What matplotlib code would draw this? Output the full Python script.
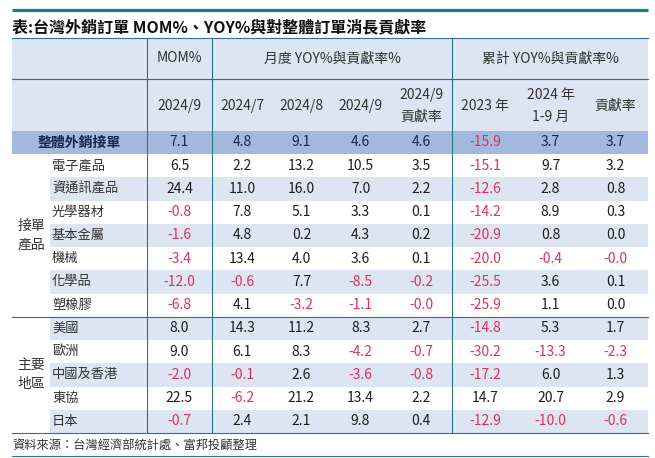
import matplotlib
matplotlib.use("Agg")
import matplotlib.pyplot as plt
from matplotlib.patches import Rectangle

plt.rcParams['font.family'] = ['Noto Sans CJK TC', 'DejaVu Sans']

# ---------------- data ----------------
title = "表:台灣外銷訂單 MOM%、YOY%與對整體訂單消長貢獻率"
source = "資料來源：台灣經濟部統計處、富邦投顧整理"

total_label = "整體外銷接單"
product_group = "接單\n產品"
region_group = "主要\n地區"
product_labels = ["電子產品", "資通訊產品", "光學器材", "基本金屬", "機械", "化學品", "塑橡膠"]
region_labels = ["美國", "歐洲", "中國及香港", "東協", "日本"]

header_top = ["MOM%", "月度 YOY%與貢獻率%", "累計 YOY%與貢獻率%"]
header_sub = ["2024/9", "2024/7", "2024/8", "2024/9", "2024/9\n貢獻率", "2023 年", "2024 年\n1-9 月", "貢獻率"]

# rows: total, 7 products, 5 regions
mom_2024_9    = [7.1, 6.5, 24.4, -0.8, -1.6, -3.4, -12.0, -6.8, 8.0, 9.0, -2.0, 22.5, -0.7]
yoy_2024_7    = [4.8, 2.2, 11.0, 7.8, 4.8, 13.4, -0.6, 4.1, 14.3, 6.1, -0.1, -6.2, 2.4]
yoy_2024_8    = [9.1, 13.2, 16.0, 5.1, 0.2, 4.0, 7.7, -3.2, 11.2, 8.3, 2.6, 21.2, 2.1]
yoy_2024_9    = [4.6, 10.5, 7.0, 3.3, 4.3, 3.6, -8.5, -1.1, 8.3, -4.2, -3.6, 13.4, 9.8]
contrib_2024_9 = [4.6, 3.5, 2.2, 0.1, 0.2, 0.1, -0.2, -0.0, 2.7, -0.7, -0.8, 2.2, 0.4]
cum_2023      = [-15.9, -15.1, -12.6, -14.2, -20.9, -20.0, -25.5, -25.9, -14.8, -30.2, -17.2, 14.7, -12.9]
cum_2024_1_9  = [3.7, 9.7, 2.8, 8.9, 0.8, -0.4, 3.6, 1.1, 5.3, -13.3, 6.0, 20.7, -10.0]
cum_contrib   = [3.7, 3.2, 0.8, 0.3, 0.0, -0.0, 0.1, 0.0, 1.7, -2.3, 1.3, 2.9, -0.6]

columns = [mom_2024_9, yoy_2024_7, yoy_2024_8, yoy_2024_9, contrib_2024_9,
           cum_2023, cum_2024_1_9, cum_contrib]

# ---------------- layout / style ----------------
W, H = 655, 458
LEFT, RIGHT = 12, 648
ITEM_X = 50
col_edges = [147, 212, 272, 331, 390, 452, 518, 583, 648]
col_centers = [(a + b) / 2 for a, b in zip(col_edges[:-1], col_edges[1:])]
Y_HEAD1, Y_HEAD2, Y_TOTAL, Y_DATA = 38, 79, 131, 154
Y_END = 433
n_rows = len(product_labels) + len(region_labels)
row_h = (Y_END - Y_DATA) / n_rows

HEAD_BG = "#dce5f1"
TOTAL_BG = "#a3b8de"
STRIPE = "#dce5f1"
LINE = "#2e7489"
TOPLINE = "#1d7d86"
RED = "#e0305c"
BLACK = "#1e1e1e"
HEADTXT = "#333333"

fig = plt.figure(figsize=(W / 100, H / 100), dpi=100)
ax = fig.add_axes([0, 0, 1, 1])
ax.set_xlim(0, W)
ax.set_ylim(H, 0)
ax.axis("off")

FS = 10

# title
ax.plot([LEFT, RIGHT], [9.5, 9.5], color=TOPLINE, lw=2.3, solid_capstyle="butt")
ax.text(LEFT, 27, title, fontsize=11.5, fontweight="bold", ha="left", va="center", color="#111111")

# header background
ax.add_patch(Rectangle((LEFT, Y_HEAD1), RIGHT - LEFT, Y_TOTAL - Y_HEAD1, facecolor=HEAD_BG, edgecolor="none"))
# total row background
ax.add_patch(Rectangle((LEFT, Y_TOTAL), RIGHT - LEFT, Y_DATA - Y_TOTAL, facecolor=TOTAL_BG, edgecolor="none"))
# stripes
for i in range(n_rows):
    if i % 2 == 1:
        y0 = Y_DATA + i * row_h
        ax.add_patch(Rectangle((ITEM_X, y0), RIGHT - ITEM_X, row_h, facecolor=STRIPE, edgecolor="none"))

# header texts
y1 = (Y_HEAD1 + Y_HEAD2) / 2
ax.text(col_centers[0], y1, header_top[0], fontsize=FS, ha="center", va="center", color=HEADTXT)
ax.text((col_edges[1] + col_edges[5]) / 2, y1, header_top[1], fontsize=FS, ha="center", va="center", color=HEADTXT)
ax.text((col_edges[5] + col_edges[8]) / 2, y1, header_top[2], fontsize=FS, ha="center", va="center", color=HEADTXT)
y2 = (Y_HEAD2 + Y_TOTAL) / 2 + 1
for cx, lab in zip(col_centers, header_sub):
    if "\n" in lab:
        a, b = lab.split("\n")
        ax.text(cx, y2 - 11, a, fontsize=FS, ha="center", va="center", color=HEADTXT)
        ax.text(cx, y2 + 11, b, fontsize=FS, ha="center", va="center", color=HEADTXT)
    else:
        ax.text(cx, y2, lab, fontsize=FS, ha="center", va="center", color=HEADTXT)

def fmt(v):
    return f"{v:.1f}"

# total row
yt = (Y_TOTAL + Y_DATA) / 2
ax.text((LEFT + col_edges[0]) / 2, yt, total_label, fontsize=FS, fontweight="bold",
        ha="center", va="center", color="#1a2650")
for cx, col in zip(col_centers, columns):
    s = fmt(col[0])
    ax.text(cx, yt, s, fontsize=FS, ha="center", va="center",
            color=RED if s.startswith("-") else "#1a2650")

# data rows
labels = product_labels + region_labels
for i, lab in enumerate(labels):
    yc = Y_DATA + (i + 0.5) * row_h
    ax.text(ITEM_X + 2, yc, lab, fontsize=FS - 0.5, ha="left", va="center", color=HEADTXT)
    for cx, col in zip(col_centers, columns):
        s = fmt(col[i + 1])
        ax.text(cx, yc, s, fontsize=FS, ha="center", va="center",
                color=RED if s.startswith("-") else BLACK)

# group labels
y_split = Y_DATA + len(product_labels) * row_h
ax.text(31, (Y_DATA + y_split) / 2, product_group, fontsize=FS, ha="center", va="center",
        color=HEADTXT, linespacing=1.45)
ax.text(31, (y_split + Y_END) / 2, region_group, fontsize=FS, ha="center", va="center",
        color=HEADTXT, linespacing=1.45)

# grid lines
for y in [Y_HEAD1, Y_HEAD2, y_split, Y_END]:
    ax.plot([LEFT, RIGHT], [y, y], color=LINE, lw=0.8)
for x in [col_edges[0], col_edges[1], col_edges[5]]:
    ax.plot([x, x], [Y_HEAD1, Y_END], color=LINE, lw=0.8)

# footer
ax.text(LEFT, 446, source, fontsize=8.8, ha="left", va="center", color=HEADTXT)
ax.plot([LEFT, RIGHT], [456, 456], color=LINE, lw=0.8)

fig.savefig("out.png", dpi=100)
